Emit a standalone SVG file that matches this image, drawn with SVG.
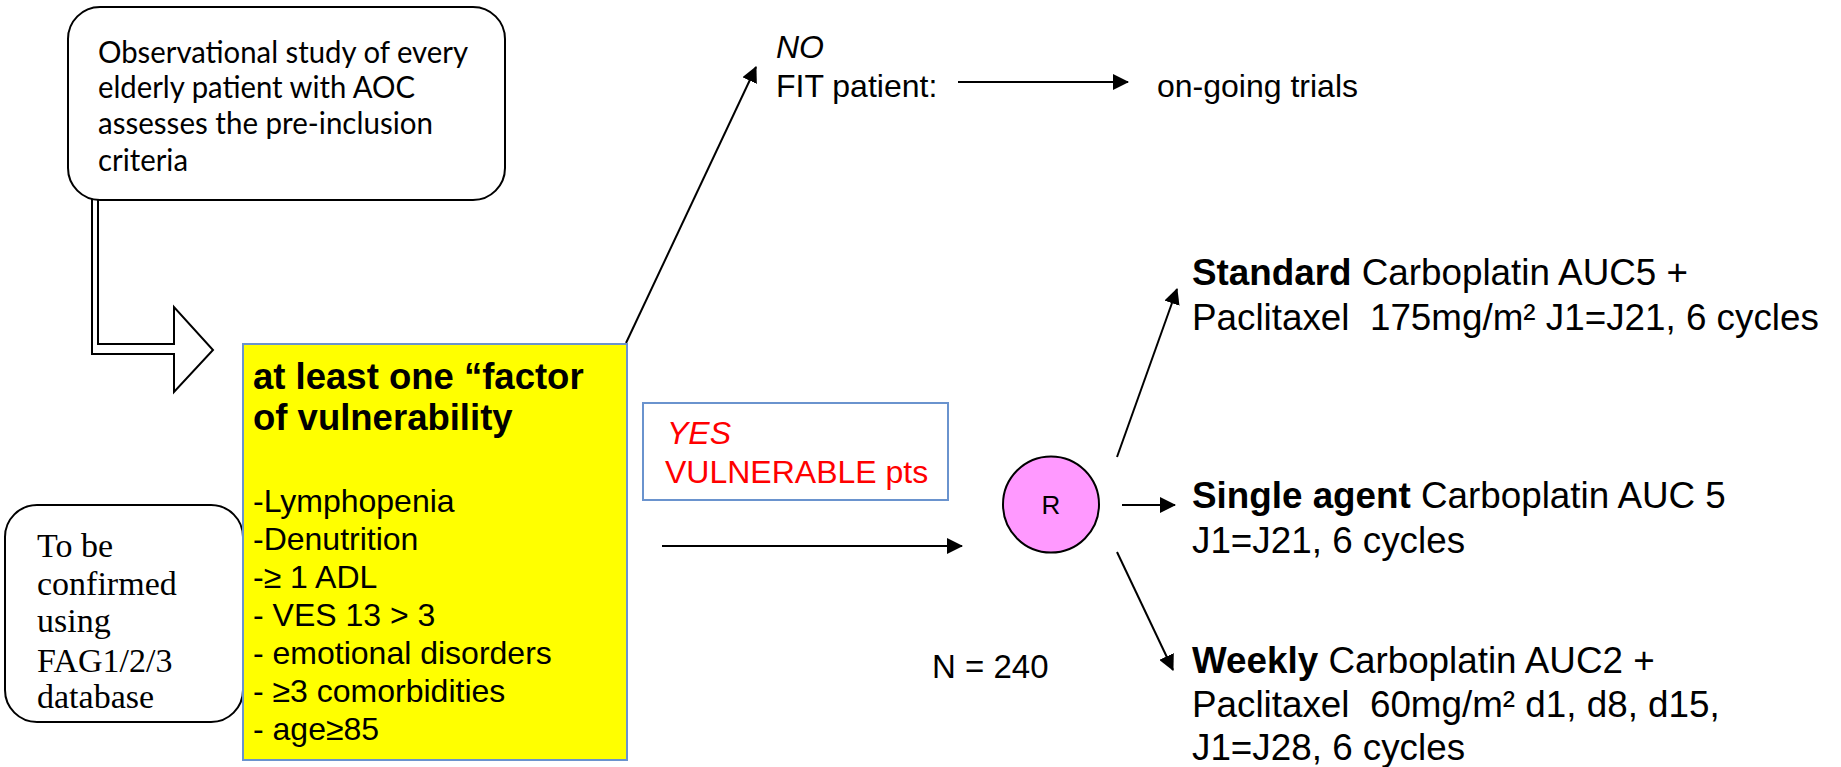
<svg xmlns="http://www.w3.org/2000/svg" width="1841" height="767" viewBox="0 0 1841 767">
<style>
.sans{font-family:"Liberation Sans",Arial,sans-serif;fill:#000}
.cal{font-family:Lato,"Open Sans",sans-serif;font-size:30px;fill:#000}
.ser{font-family:"Liberation Serif","Times New Roman",serif;font-size:34px;fill:#000}
.box{fill:#fff;stroke:#000;stroke-width:2}
.conn{stroke:#000;stroke-width:2;fill:none}
.red{fill:#ff0000}
</style>
<defs>
<marker id="ah" markerUnits="userSpaceOnUse" markerWidth="16" markerHeight="16" viewBox="0 0 16 16" refX="15" refY="8" orient="auto">
<path d="M0,0 L16,8 L0,16 z" fill="#000"/>
</marker>
</defs>

<g id="connectors">
<path id="block-arrow" d="M92,196 L92,354 L174,354 L174,392 L213,350 L174,307 L174,344 L98,344 L98,196" fill="#fff" stroke="#000" stroke-width="2" stroke-linejoin="miter"/>
<line class="conn" x1="626" y1="343" x2="756" y2="67" marker-end="url(#ah)"/>
<line class="conn" x1="958" y1="82" x2="1128" y2="82" marker-end="url(#ah)"/>
<line class="conn" x1="662" y1="546" x2="962" y2="546" marker-end="url(#ah)"/>
<line class="conn" x1="1117" y1="457" x2="1177" y2="289" marker-end="url(#ah)"/>
<line class="conn" x1="1122" y1="505" x2="1175" y2="505" marker-end="url(#ah)"/>
<line class="conn" x1="1117" y1="552" x2="1173" y2="670" marker-end="url(#ah)"/>
</g>

<g id="observational">
<rect class="box" x="68" y="7" width="437" height="193" rx="32" ry="32"/>
<text class="cal" x="98" y="63" textLength="370" lengthAdjust="spacingAndGlyphs">Observational study of every</text>
<text class="cal" x="98" y="98" textLength="317" lengthAdjust="spacingAndGlyphs">elderly patient with AOC</text>
<text class="cal" x="98" y="134" textLength="335" lengthAdjust="spacingAndGlyphs">assesses the pre-inclusion</text>
<text class="cal" x="98" y="171" textLength="90" lengthAdjust="spacingAndGlyphs">criteria</text>
</g>

<g id="confirm">
<rect class="box" x="5" y="505" width="238" height="217" rx="32" ry="32"/>
<text class="ser" x="37" y="557">To be</text>
<text class="ser" x="37" y="595">confirmed</text>
<text class="ser" x="37" y="632">using</text>
<text class="ser" x="37" y="672">FAG1/2/3</text>
<text class="ser" x="37" y="708">database</text>
</g>

<g id="vulnerability">
<rect x="243" y="344" width="384" height="416" fill="#ffff00" stroke="#6a93ce" stroke-width="2"/>
<text class="sans" x="253" y="389" font-size="36.5" font-weight="bold">at least one “factor</text>
<text class="sans" x="253" y="430" font-size="36.5" font-weight="bold">of vulnerability</text>
<g class="sans" font-size="32">
<text x="253" y="512">-Lymphopenia</text>
<text x="253" y="550">-Denutrition</text>
<text x="253" y="588">-≥ 1 ADL</text>
<text x="253" y="626">- VES 13 &gt; 3</text>
<text x="253" y="664">- emotional disorders</text>
<text x="253" y="702">- ≥3 comorbidities</text>
<text x="253" y="740">- age≥85</text>
</g>
</g>

<g id="yes">
<rect x="643" y="403" width="305" height="97" fill="#fff" stroke="#6a93ce" stroke-width="2"/>
<text class="sans red" x="667" y="444" font-size="32" font-style="italic">YES</text>
<text class="sans red" x="665" y="483" font-size="32">VULNERABLE pts</text>
</g>

<g id="no-fit">
<text class="sans" x="776" y="58" font-size="32" font-style="italic">NO</text>
<text class="sans" x="776" y="97" font-size="32">FIT patient:</text>
</g>

<g id="ongoing">
<text class="sans" x="1157" y="97" font-size="32">on-going trials</text>
</g>

<g id="randomisation">
<circle cx="1051" cy="504.5" r="48" fill="#ff99ff" stroke="#000" stroke-width="2"/>
<text class="sans" x="1051" y="514" font-size="26" text-anchor="middle">R</text>
</g>

<g id="n240">
<text class="sans" x="932" y="678" font-size="33">N = 240</text>
</g>

<g id="standard" class="sans" font-size="36.8">
<text x="1192" y="285" xml:space="preserve"><tspan font-weight="bold">Standard</tspan> Carboplatin AUC5 +</text>
<text x="1192" y="330" xml:space="preserve">Paclitaxel  175mg/m² J1=J21, 6 cycles</text>
</g>

<g id="single" class="sans" font-size="36.8">
<text x="1192" y="508" xml:space="preserve"><tspan font-weight="bold">Single agent</tspan> Carboplatin AUC 5</text>
<text x="1192" y="553">J1=J21, 6 cycles</text>
</g>

<g id="weekly" class="sans" font-size="36.8">
<text x="1192" y="673" xml:space="preserve"><tspan font-weight="bold">Weekly</tspan> Carboplatin AUC2 +</text>
<text x="1192" y="717" xml:space="preserve">Paclitaxel  60mg/m² d1, d8, d15,</text>
<text x="1192" y="760">J1=J28, 6 cycles</text>
</g>
</svg>
